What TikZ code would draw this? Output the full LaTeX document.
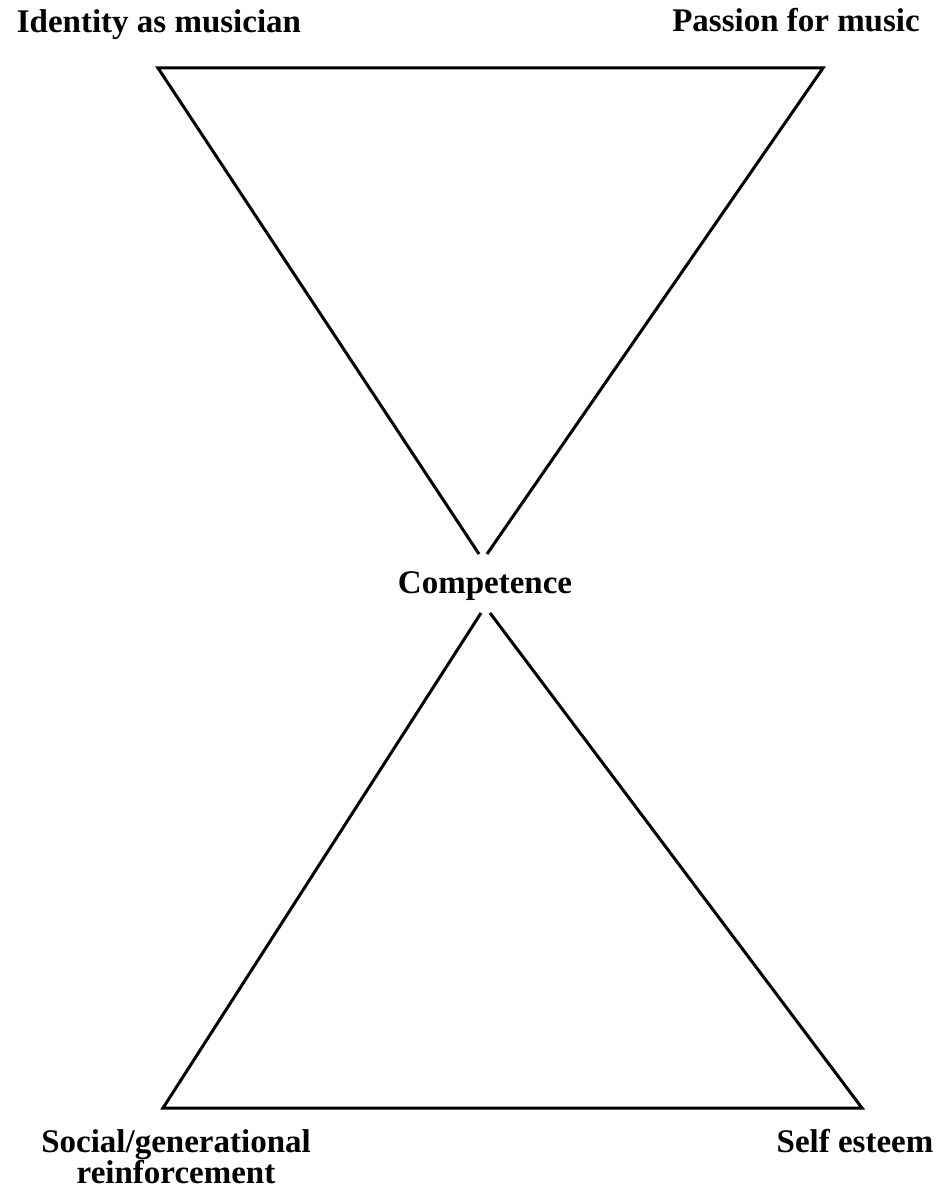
\documentclass[tikz,border=0pt]{standalone}
\usepackage{fontspec}
\setmainfont{Liberation Serif}
\begin{document}
\begin{tikzpicture}[x=1pt,y=-1pt,
  edge/.style={draw=black,line width=3pt,line join=miter},
  lbl/.style={font=\fontsize{33}{30}\selectfont\bfseries,inner sep=0pt,anchor=base,align=center}]
\useasboundingbox (0,0) rectangle (939,1193);
% upper triangle vertices
\coordinate (ul) at (158,68);
\coordinate (ur) at (823,68);
\coordinate (ta) at (479,554);
\coordinate (tb) at (487,554);
% lower triangle vertices
\coordinate (ba) at (481,613);
\coordinate (bb) at (490,613);
\coordinate (bl) at (163,1108);
\coordinate (br) at (862,1108);
\draw[edge] (ta) -- (ul) -- (ur) -- (tb);
\draw[edge] (ba) -- (bl) -- (br) -- (bb);
% labels
\node[lbl] (identity) at (159,33) {Identity as musician};
\node[lbl] (passion) at (796,32) {Passion for music};
\node[lbl] (competence) at (485,593) {Competence};
\node[lbl,anchor=north] (social) at (176,1129) {Social/generational\\reinforcement};
\node[lbl] (self) at (855,1152) {Self esteem};
\end{tikzpicture}
\end{document}
